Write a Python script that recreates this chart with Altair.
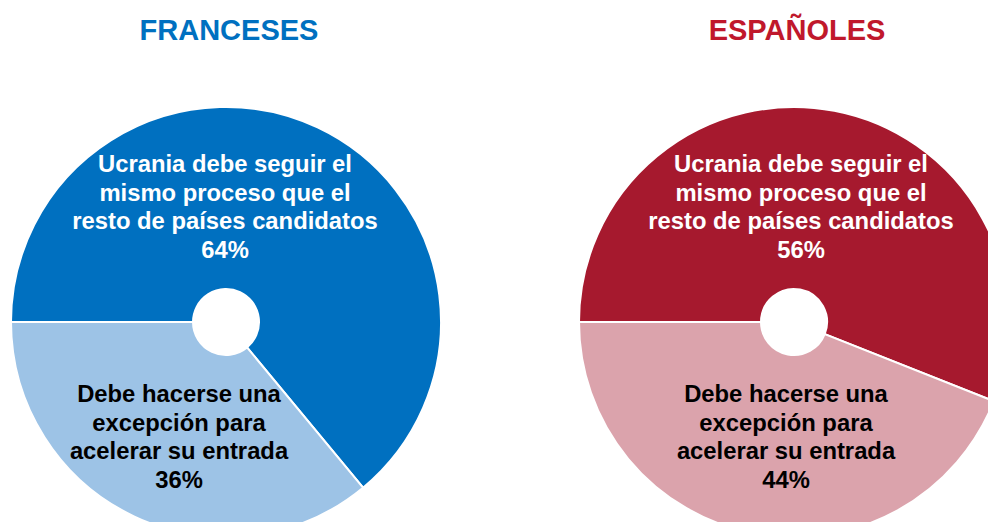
import math
import altair as alt
import pandas as pd

# ---- data ----
paises = ["FRANCESES", "ESPAÑOLES"]
segmentos = ["Seguir proceso", "Excepción"]
etiquetas = [
    "Ucrania debe seguir el\nmismo proceso que el\nresto de países candidatos",
    "Debe hacerse una\nexcepción para\nacelerar su entrada",
]
valores_fr = [64, 36]
valores_es = [56, 44]

colores = {
    "FRANCESES": ["#0070C0", "#9DC3E6"],
    "ESPAÑOLES": ["#A6192E", "#DBA3AC"],
}
titulo_color = {"FRANCESES": "#0070C0", "ESPAÑOLES": "#C0182C"}
texto_color = ["#FFFFFF", "#000000"]

# ---- layout (chart coordinates) ----
W, H = 980, 514
centros = {"FRANCESES": (218, 314), "ESPAÑOLES": (786, 314)}
titulo_x = {"FRANCESES": 221, "ESPAÑOLES": 789}
etiqueta_pos = {
    "FRANCESES": [(217, 157), (171, 387)],
    "ESPAÑOLES": [(793, 157), (778, 387)],
}
R_OUT, R_IN = 215, 33

rows = []
for pais, vals in zip(paises, [valores_fr, valores_es]):
    for i, (seg, et, v) in enumerate(zip(segmentos, etiquetas, vals)):
        rows.append({
            "pais": pais,
            "segmento": seg,
            "clave": f"{pais}|{seg}",
            "orden": i,
            "valor": v,
            "texto": f"{et}\n{v}%",
        })
df = pd.DataFrame(rows)

dom = [f"{p}|{s}" for p in paises for s in segmentos]
rng = [c for p in paises for c in colores[p]]
color_scale = alt.Scale(domain=dom, range=rng)
theta_scale = alt.Scale(domain=[0, 100], range=[1.5 * math.pi, 3.5 * math.pi])

base = alt.Chart(df)
layers = []
for pais in paises:
    cx, cy = centros[pais]
    arc = base.transform_filter(alt.datum.pais == pais).mark_arc(
        outerRadius=R_OUT, innerRadius=R_IN, stroke="white", strokeWidth=2
    ).encode(
        theta=alt.Theta("valor:Q", stack=True, scale=theta_scale),
        order=alt.Order("orden:Q"),
        color=alt.Color("clave:N", scale=color_scale, legend=None),
        x=alt.value(cx),
        y=alt.value(cy),
    )
    layers.append(arc)
    titulo = alt.Chart(pd.DataFrame({"t": [pais]})).mark_text(
        font="Liberation Sans", fontSize=29, fontWeight="bold",
        color=titulo_color[pais], align="center", baseline="alphabetic",
    ).encode(text="t:N", x=alt.value(titulo_x[pais]), y=alt.value(32))
    layers.append(titulo)
    for i, seg in enumerate(segmentos):
        tx, ty = etiqueta_pos[pais][i]
        txt = base.transform_filter(
            (alt.datum.pais == pais) & (alt.datum.segmento == seg)
        ).mark_text(
            font="Liberation Sans", fontSize=23.8, fontWeight="bold",
            color=texto_color[i], align="center", baseline="middle",
            lineBreak="\n", lineHeight=28.7,
        ).encode(text="texto:N", x=alt.value(tx), y=alt.value(ty))
        layers.append(txt)

chart = alt.layer(*layers).properties(
    width=W, height=H, autosize=alt.AutoSizeParams(type="none"), padding=0,
).resolve_scale(theta="independent").configure_view(stroke=None)

chart.save("out.html", embed_options={"renderer": "svg", "actions": False})
